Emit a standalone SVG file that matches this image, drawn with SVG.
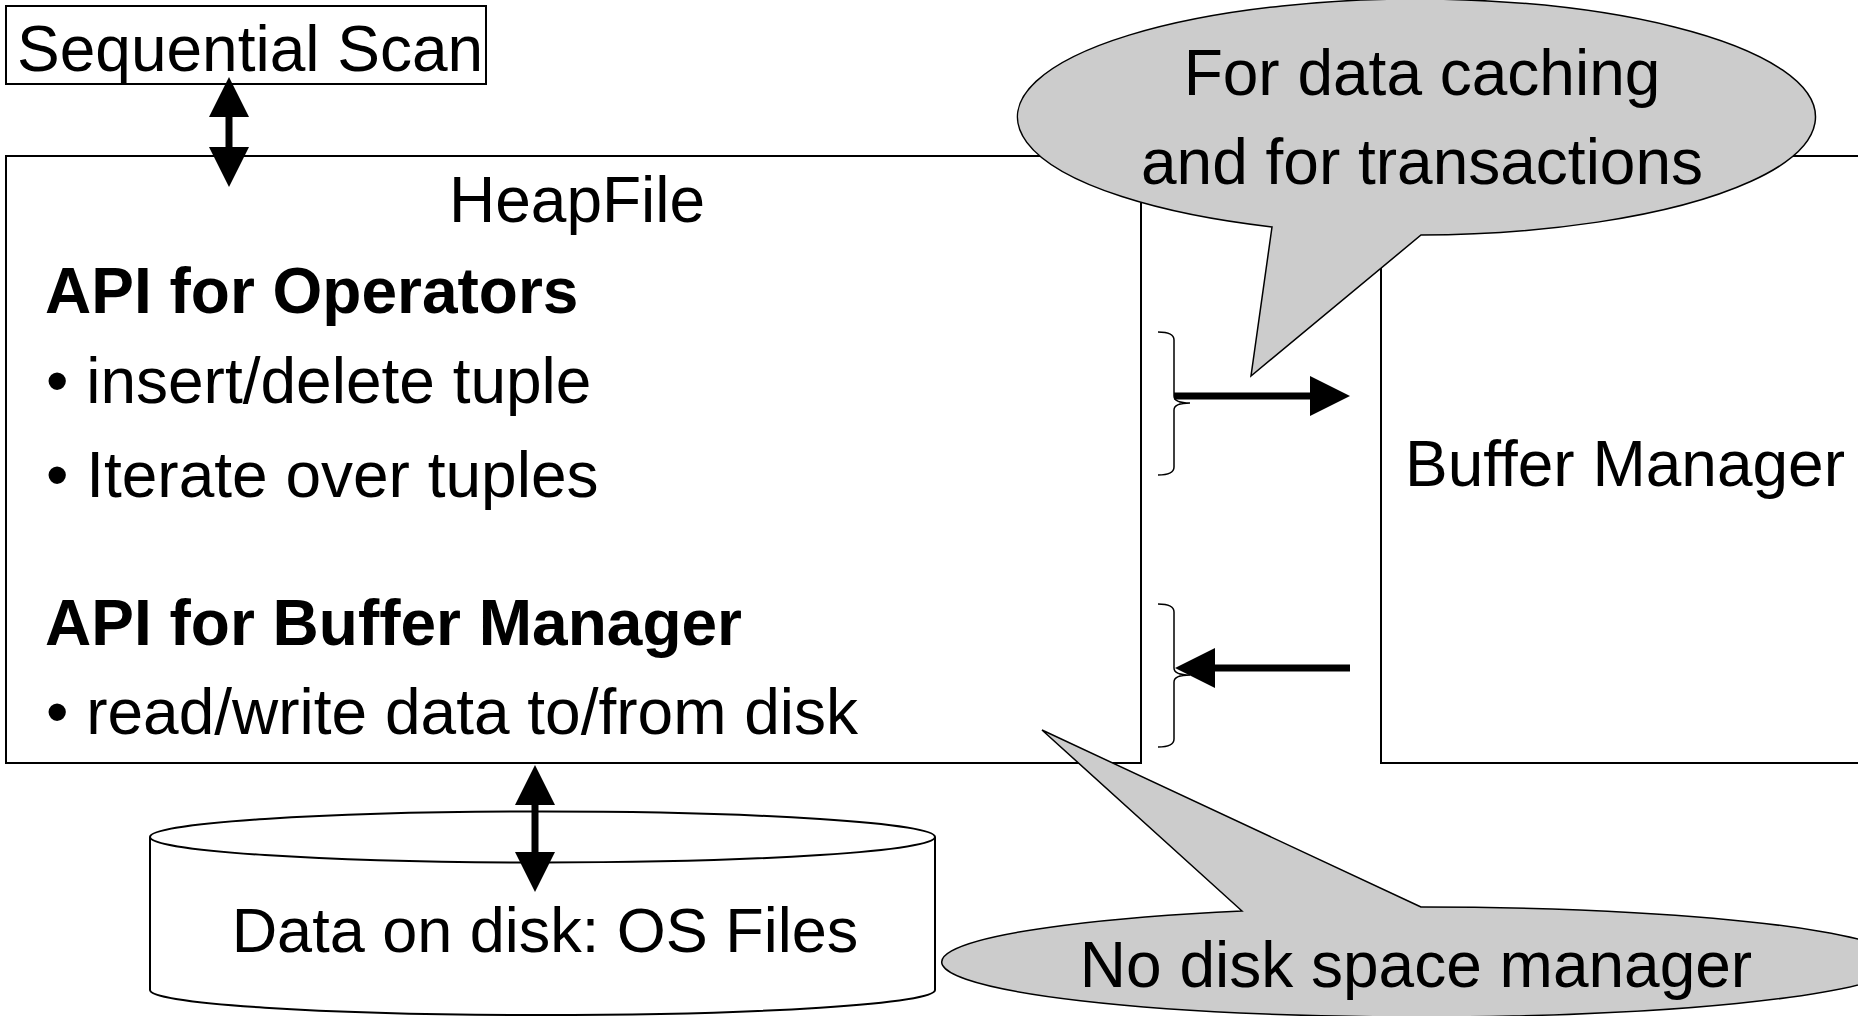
<svg xmlns="http://www.w3.org/2000/svg" width="1858" height="1016" viewBox="0 0 1858 1016">
<style>
text{font-family:"Liberation Sans",Arial,sans-serif;font-size:64px;fill:#000}
.b{font-weight:bold}
.box{fill:#fff;stroke:#000;stroke-width:2}
.call{fill:#cccccc;stroke:#000;stroke-width:1.5;stroke-linejoin:miter}
.brace{fill:none;stroke:#000;stroke-width:1.5}
.conn{stroke:#000;stroke-width:7;fill:none}
</style>
<defs>
<marker id="ah" viewBox="0 0 40 40" markerWidth="40" markerHeight="40" refX="20" refY="20" orient="auto-start-reverse" markerUnits="userSpaceOnUse">
<path d="M0,0 L40,20 L0,40 Z" fill="#000"/>
</marker>
</defs>
<g id="heapfile">
<rect class="box" x="6" y="156" width="1135" height="607"/>
<text x="449" y="222">HeapFile</text>
<text class="b" x="45" y="313">API for Operators</text>
<text x="46" y="403">• insert/delete tuple</text>
<text x="46" y="497">• Iterate over tuples</text>
<text class="b" x="45" y="645">API for Buffer Manager</text>
<text x="46" y="734">• read/write data to/from disk</text>
</g>
<g id="buffer-manager">
<rect class="box" x="1381" y="156" width="500" height="607"/>
<text x="1405" y="486">Buffer Manager</text>
</g>
<g id="sequential-scan">
<rect class="box" x="6" y="6" width="480" height="78" stroke-width="1.5"/>
<text x="17" y="71">Sequential Scan</text>
</g>
<g id="disk">
<path class="box" d="M150,837 L150,990 A392.5,25 0 0 0 935,990 L935,837"/>
<ellipse class="box" cx="542.5" cy="837" rx="392.5" ry="25.5"/>
<text x="545" y="952" text-anchor="middle" style="font-size:63px">Data on disk: OS Files</text>
</g>
<g id="braces">
<path class="brace" d="M1158,332 Q1174,332 1174,340 L1174,396 Q1174,403 1190,403 Q1174,403 1174,410 L1174,467 Q1174,475 1158,475"/>
<path class="brace" d="M1158,604 Q1174,604 1174,612 L1174,668 Q1174,675 1190,675 Q1174,675 1174,682 L1174,739 Q1174,747 1158,747"/>
</g>
<g id="connectors">
<line class="conn" x1="229" y1="97" x2="229" y2="167" marker-start="url(#ah)" marker-end="url(#ah)"/>
<line class="conn" x1="535" y1="785" x2="535" y2="872" marker-start="url(#ah)" marker-end="url(#ah)"/>
<line class="conn" x1="1174" y1="396" x2="1330" y2="396" marker-end="url(#ah)"/>
<line class="conn" x1="1350" y1="668" x2="1195" y2="668" marker-end="url(#ah)"/>
</g>
<g id="callout-caching">
<path class="call" d="M1272,227 L1251,376 L1421,235 A399,118 0 1 0 1272,227 Z"/>
<text x="1422" y="95" text-anchor="middle">For data caching</text>
<text x="1422" y="184" text-anchor="middle">and for transactions</text>
</g>
<g id="callout-disk">
<path class="call" d="M1421,907 L1042,730 L1242,911 A480,55 0 1 0 1421,907 Z"/>
<text x="1416" y="987" text-anchor="middle">No disk space manager</text>
</g>
</svg>
